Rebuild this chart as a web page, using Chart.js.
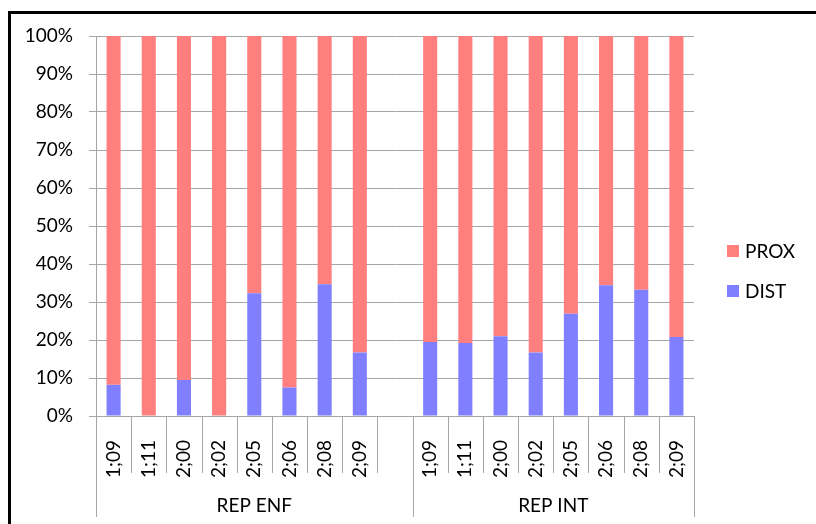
<!DOCTYPE html>
<html>
<head>
<meta charset="utf-8">
<script src="https://cdn.jsdelivr.net/npm/chart.js@4/dist/chart.umd.min.js"></script>
<style>
  html, body { margin: 0; padding: 0; background: #fff; overflow: hidden; }
  #frame {
    position: absolute; left: 8px; top: 11px; width: 900px; height: 600px;
    border-left: 3px solid #000; border-top: 3px solid #000;
  }
  #wrap { position: absolute; left: 0; top: 0; width: 816px; height: 524px; }
</style>
</head>
<body>
<div id="frame"></div>
<div id="wrap"><canvas id="chart" width="816" height="524"></canvas></div>
<script>
// categories: ages inside each group, the empty slot is the gap after REP ENF
const ages = ["1;09", "1;11", "2;00", "2;02", "2;05", "2;06", "2;08", "2;09"];
const groups = ["REP ENF", "REP INT"];
const groupSizes = [9, 8];

// percentages per age
const distEnf = [8.2, 0, 9.5, 0, 32.3, 7.5, 34.7, 16.7];
const proxEnf = [91.8, 100, 90.5, 100, 67.7, 92.5, 65.3, 83.3];
const distInt = [19.5, 19.2, 21.0, 16.7, 26.9, 34.4, 33.2, 20.8];
const proxInt = [80.5, 80.8, 79.0, 83.3, 73.1, 65.6, 66.8, 79.2];

const yMax = 100;
const yStep = 10;

const labels = [...ages, "", ...ages];
const distData = [...distEnf, null, ...distInt];
const proxData = [...proxEnf, null, ...proxInt];

const FONT = "Lato, 'Open Sans', sans-serif";
const GRID = "#a6a6a6";

const groupAxis = {
    id: "groupAxis",
    afterDraw(chart) {
        const ctx = chart.ctx;
        const area = chart.chartArea;
        const step = (area.right - area.left) / labels.length;
        const bounds = [0];
        groupSizes.forEach(n => bounds.push(bounds[bounds.length - 1] + n));

        ctx.save();
        ctx.strokeStyle = GRID;
        ctx.lineWidth = 1;
        for (let i = 0; i <= labels.length; i++) {
            const px = Math.round(area.left + i * step) + 0.5;
            const bottom = bounds.includes(i) ? area.bottom + 101 : area.bottom + 57;
            ctx.beginPath();
            ctx.moveTo(px, area.bottom);
            ctx.lineTo(px, bottom);
            ctx.stroke();
        }

        ctx.fillStyle = "#000";
        ctx.font = "19px " + FONT;
        ctx.textAlign = "center";
        ctx.textBaseline = "middle";
        groups.forEach((g, i) => {
            const cx = area.left + (bounds[i] + bounds[i + 1]) / 2 * step;
            ctx.fillText(g, cx, area.bottom + 90);
        });

        // legend, PROX first like the original
        const items = [chart.data.datasets[1], chart.data.datasets[0]];
        items.forEach((ds, i) => {
            const ly = 251 + i * 40;
            ctx.fillStyle = ds.backgroundColor;
            ctx.fillRect(area.right + 33, ly - 6, 12, 12);
            ctx.fillStyle = "#000";
            ctx.textAlign = "left";
            ctx.fillText(ds.label, area.right + 51, ly + 1);
        });
        ctx.restore();
    }
};

new Chart(document.getElementById("chart"), {
    type: "bar",
    data: {
        labels: labels,
        datasets: [
            { label: "DIST", data: distData, backgroundColor: "#7f7fff" },
            { label: "PROX", data: proxData, backgroundColor: "#ff7f7f" },
        ]
    },
    options: {
        responsive: false,
        animation: false,
        devicePixelRatio: 1,
        layout: { padding: { top: 36, left: 0, right: 122, bottom: 0 } },
        datasets: { bar: { barPercentage: 0.4, categoryPercentage: 1 } },
        plugins: {
            legend: { display: false },
            tooltip: { enabled: false },
        },
        scales: {
            x: {
                stacked: true,
                grid: { display: false },
                border: { color: GRID },
                ticks: {
                    autoSkip: false,
                    minRotation: 90,
                    maxRotation: 90,
                    padding: 16,
                    color: "#000",
                    font: { size: 19, family: FONT },
                },
                afterFit: scale => { scale.height = 108; },
            },
            y: {
                stacked: true,
                min: 0,
                max: yMax,
                grid: { color: GRID, tickLength: 7 },
                border: { color: GRID },
                ticks: {
                    stepSize: yStep,
                    padding: 16,
                    color: "#000",
                    font: { size: 19, family: FONT },
                    callback: v => v + "%",
                },
                afterFit: scale => { scale.width = 96; },
            }
        }
    },
    plugins: [groupAxis]
});
</script>
</body>
</html>
